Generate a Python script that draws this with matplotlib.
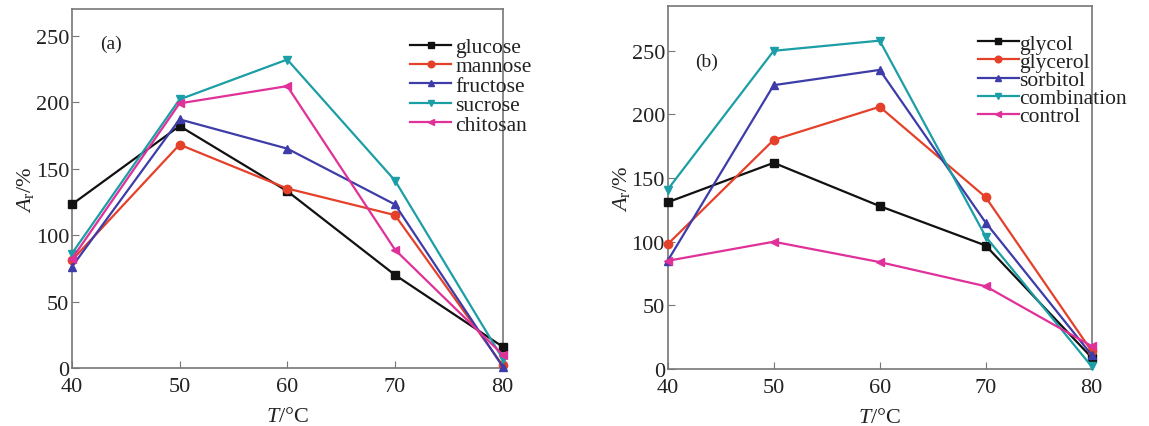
import matplotlib
matplotlib.use("Agg")
import matplotlib.pyplot as plt

# =========================================================
# DATA
# =========================================================

temps = [40, 50, 60, 70, 80]

# panel (a): sugars
glucose = [123, 182, 133, 70, 16]
mannose = [81, 168, 135, 115, 2]
fructose = [76, 187, 165, 123, 1]
sucrose = [86, 202, 232, 141, 7]
chitosan = [82, 199, 212, 89, 10]

# panel (b): polyols
glycol = [131, 162, 128, 97, 9]
glycerol = [98, 180, 206, 135, 14]
sorbitol = [85, 223, 235, 115, 11]
combination = [141, 250, 258, 104, 2]
control = [85, 100, 84, 65, 18]

x_ticks = [40, 50, 60, 70, 80]
y_ticks = [0, 50, 100, 150, 200, 250]

# =========================================================
# STYLE
# =========================================================

plt.rcParams["font.family"] = "Liberation Serif"
plt.rcParams["mathtext.fontset"] = "custom"
plt.rcParams["mathtext.rm"] = "Liberation Serif"
plt.rcParams["mathtext.it"] = "Liberation Serif:italic"

colors = ["#111111", "#e5402a", "#3d3ca8", "#1b9ea6", "#e0309a"]
markers = ["s", "o", "^", "v", "<"]
text_color = "#222222"

fig = plt.figure(figsize=(11.49, 4.27), dpi=100)

ax_a = fig.add_axes([0.0625, 0.1358, 0.375, 0.8408])
ax_b = fig.add_axes([0.5811, 0.1335, 0.369, 0.8495])


def draw_panel(ax, series, names, ymax, tag, tag_xy, leg_xy, leg_space, leg_pad):
    for values, name, c, m in zip(series, names, colors, markers):
        ax.plot(
            temps,
            values,
            color=c,
            marker=m,
            markersize=6,
            linewidth=1.6,
            label=name,
            clip_on=False,
            zorder=3,
        )

    ax.set_xlim(40, 80)
    ax.set_ylim(0, ymax)
    ax.set_xticks(x_ticks)
    ax.set_yticks(y_ticks)
    ax.tick_params(direction="in", length=5, labelsize=16, colors="#777777",
                   labelcolor=text_color)
    ax.tick_params(axis="x", pad=6.5)
    ax.tick_params(axis="y", pad=2)

    for spine in ax.spines.values():
        spine.set_linewidth(1.2)
        spine.set_color("#777777")

    ax.set_xlabel(r"$\mathit{T}$/°C", fontsize=16, labelpad=8, color=text_color)
    ax.set_ylabel(r"$\mathit{A}_\mathrm{r}$/%", fontsize=16, labelpad=0,
                  color=text_color)

    ax.text(tag_xy[0], tag_xy[1], tag, transform=ax.transAxes, fontsize=14,
            va="center", color=text_color)

    leg = ax.legend(
        loc="upper left",
        bbox_to_anchor=leg_xy,
        frameon=False,
        fontsize=15.5,
        handlelength=1.9,
        handletextpad=leg_pad,
        labelspacing=leg_space,
        borderpad=0,
        borderaxespad=0,
        markerscale=0.8,
    )
    for t in leg.get_texts():
        t.set_color(text_color)


draw_panel(
    ax_a,
    [glucose, mannose, fructose, sucrose, chitosan],
    ["glucose", "mannose", "fructose", "sucrose", "chitosan"],
    270,
    "(a)",
    (0.065, 0.905),
    (0.785, 0.922),
    -0.03,
    0.2,
)

draw_panel(
    ax_b,
    [glycol, glycerol, sorbitol, combination, control],
    ["glycol", "glycerol", "sorbitol", "combination", "control"],
    285,
    "(b)",
    (0.064, 0.849),
    (0.731, 0.924),
    -0.09,
    0.05,
)

fig.savefig("out.png", dpi=100)
